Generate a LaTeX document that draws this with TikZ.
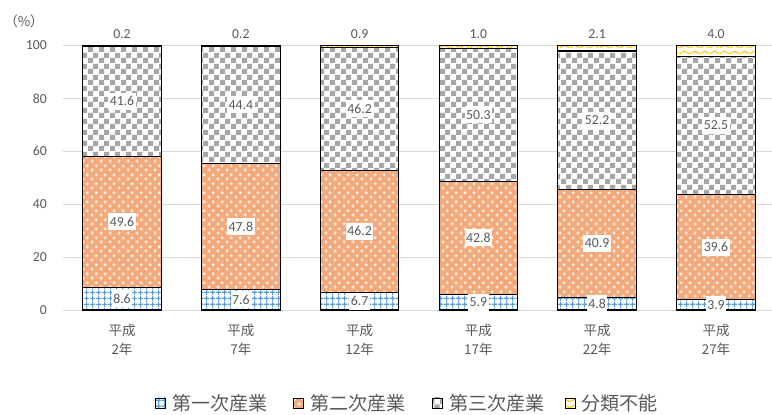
\documentclass[tikz,border=0pt]{standalone}
\usepackage{fontspec}
\setmainfont{Carlito}
\newfontfamily\jpfont{Noto Sans CJK JP}
\usepackage{tikz}
\usetikzlibrary{patterns}
\definecolor{txtgray}{HTML}{595959}
\definecolor{gridgray}{HTML}{D9D9D9}
\definecolor{blueline}{HTML}{5B9BD5}
\definecolor{orgbase}{HTML}{F4A97B}
\definecolor{chkgray}{HTML}{A6A6A6}
\definecolor{yelline}{HTML}{FFC000}
\pgfdeclarepatternformonly{bgrid}{\pgfpointorigin}{\pgfpoint{6pt}{6pt}}{\pgfpoint{6pt}{6pt}}{
  \pgfsetlinewidth{1.3pt}
  \pgfpathmoveto{\pgfpoint{3pt}{0pt}}\pgfpathlineto{\pgfpoint{3pt}{6pt}}
  \pgfpathmoveto{\pgfpoint{0pt}{3pt}}\pgfpathlineto{\pgfpoint{6pt}{3pt}}
  \pgfusepath{stroke}}
\pgfdeclarepatternformonly{pluses}{\pgfpointorigin}{\pgfpoint{9pt}{9pt}}{\pgfpoint{9pt}{9pt}}{
  \pgfsetlinewidth{1pt}
  \pgfpathmoveto{\pgfpoint{0.5pt}{2.25pt}}\pgfpathlineto{\pgfpoint{4pt}{2.25pt}}
  \pgfpathmoveto{\pgfpoint{2.25pt}{0.5pt}}\pgfpathlineto{\pgfpoint{2.25pt}{4pt}}
  \pgfpathmoveto{\pgfpoint{5pt}{6.75pt}}\pgfpathlineto{\pgfpoint{8.5pt}{6.75pt}}
  \pgfpathmoveto{\pgfpoint{6.75pt}{5pt}}\pgfpathlineto{\pgfpoint{6.75pt}{8.5pt}}
  \pgfusepath{stroke}}
\pgfdeclarepatternformonly{checker}{\pgfpointorigin}{\pgfpoint{11pt}{11pt}}{\pgfpoint{11pt}{11pt}}{
  \pgfpathrectangle{\pgfpointorigin}{\pgfpoint{5.5pt}{5.5pt}}
  \pgfpathrectangle{\pgfpoint{5.5pt}{5.5pt}}{\pgfpoint{5.5pt}{5.5pt}}
  \pgfusepath{fill}}
\pgfdeclarepatternformonly{waves}{\pgfpointorigin}{\pgfpoint{10pt}{6pt}}{\pgfpoint{10pt}{6pt}}{
  \pgfsetlinewidth{1.1pt}
  \pgfpathmoveto{\pgfpoint{0pt}{1.5pt}}
  \pgfpathcurveto{\pgfpoint{2.5pt}{1.5pt}}{\pgfpoint{2.5pt}{4.2pt}}{\pgfpoint{5pt}{4.2pt}}
  \pgfpathcurveto{\pgfpoint{7.5pt}{4.2pt}}{\pgfpoint{7.5pt}{1.5pt}}{\pgfpoint{10pt}{1.5pt}}
  \pgfusepath{stroke}}
\tikzset{
    prim/.style={
           preaction={fill=white},
           pattern=bgrid, pattern color=blueline,
           draw=black, line width=1.1pt,
           },
}
\tikzset{
    seco/.style={
           preaction={fill=orgbase},
           pattern=pluses, pattern color=white,
           draw=black, line width=1.1pt,
           },
}
\tikzset{
    tert/.style={
           preaction={fill=white},
           pattern=checker, pattern color=chkgray,
           draw=black, line width=1.1pt,
           },
}
\tikzset{
    unk/.style={
           preaction={fill=white},
           pattern=waves, pattern color=yelline,
           draw=black, line width=1.1pt,
           },
}
\tikzset{
    val/.style={
           rectangle,
           fill=white,
           text=txtgray,
           inner xsep=1.5pt, inner ysep=0pt,
           minimum height=17pt,
           font=\fontsize{13.8}{14}\selectfont,
           },
}
\tikzset{
    tick/.style={
           text=txtgray,
           inner sep=0pt,
           font=\fontsize{13.8}{14}\selectfont,
           },
}
\tikzset{
    cat/.style={
           text=txtgray,
           align=center,
           inner sep=0pt,
           font=\jpfont\fontsize{13.5}{19.3}\selectfont,
           },
}
\tikzset{
    leg/.style={
           anchor=west,
           text=txtgray,
           inner sep=0pt,
           font=\jpfont\fontsize{19}{19}\selectfont,
           },
}
\begin{document}
\begin{tikzpicture}[x=1pt,y=1pt]
\useasboundingbox (0,0) rectangle (772,415);
\begin{scope}[shift={(122,105)}, x=118.8pt, y=2.645pt]
\draw[gridgray, line width=0.9pt] (-0.5,0) -- (5.47,0);
\draw[gridgray, line width=0.9pt] (-0.5,20) -- (5.47,20);
\draw[gridgray, line width=0.9pt] (-0.5,40) -- (5.47,40);
\draw[gridgray, line width=0.9pt] (-0.5,60) -- (5.47,60);
\draw[gridgray, line width=0.9pt] (-0.5,80) -- (5.47,80);
\draw[gridgray, line width=0.9pt] (-0.5,100) -- (5.47,100);
\node[tick, anchor=east] (y0) at (-0.63,0) {0};
\node[tick, anchor=east] (y20) at (-0.63,20) {20};
\node[tick, anchor=east] (y40) at (-0.63,40) {40};
\node[tick, anchor=east] (y60) at (-0.63,60) {60};
\node[tick, anchor=east] (y80) at (-0.63,80) {80};
\node[tick, anchor=east] (y100) at (-0.63,100) {100};
\node[tick, font=\jpfont\fontsize{13.5}{14}\selectfont] (pct) at (-0.825,109) {（\%）};
\filldraw[prim] (-0.331,0) rectangle (0.331,8.6);
\filldraw[seco] (-0.331,8.6) rectangle (0.331,58.2);
\filldraw[tert] (-0.331,58.2) rectangle (0.331,99.8);
\filldraw[unk] (-0.331,99.8) rectangle (0.331,100);
\filldraw[prim] (0.669,0) rectangle (1.331,7.6);
\filldraw[seco] (0.669,7.6) rectangle (1.331,55.4);
\filldraw[tert] (0.669,55.4) rectangle (1.331,99.8);
\filldraw[unk] (0.669,99.8) rectangle (1.331,100);
\filldraw[prim] (1.669,0) rectangle (2.331,6.7);
\filldraw[seco] (1.669,6.7) rectangle (2.331,52.9);
\filldraw[tert] (1.669,52.9) rectangle (2.331,99.1);
\filldraw[unk] (1.669,99.1) rectangle (2.331,100);
\filldraw[prim] (2.669,0) rectangle (3.331,5.9);
\filldraw[seco] (2.669,5.9) rectangle (3.331,48.7);
\filldraw[tert] (2.669,48.7) rectangle (3.331,99.0);
\filldraw[unk] (2.669,99.0) rectangle (3.331,100);
\filldraw[prim] (3.669,0) rectangle (4.331,4.8);
\filldraw[seco] (3.669,4.8) rectangle (4.331,45.7);
\filldraw[tert] (3.669,45.7) rectangle (4.331,97.9);
\filldraw[unk] (3.669,97.9) rectangle (4.331,100);
\filldraw[prim] (4.669,0) rectangle (5.331,3.9);
\filldraw[seco] (4.669,3.9) rectangle (5.331,43.5);
\filldraw[tert] (4.669,43.5) rectangle (5.331,96.0);
\filldraw[unk] (4.669,96.0) rectangle (5.331,100);
\node[val] (v2p) at (0,4.3) {8.6};
\node[val] (v2s) at (0,33.4) {49.6};
\node[val] (v2t) at (0,79.0) {41.6};
\node[val] (v7p) at (1,3.8) {7.6};
\node[val] (v7s) at (1,31.5) {47.8};
\node[val] (v7t) at (1,77.6) {44.4};
\node[val] (v12p) at (2,3.35) {6.7};
\node[val] (v12s) at (2,29.8) {46.2};
\node[val] (v12t) at (2,76.0) {46.2};
\node[val] (v17p) at (3,2.95) {5.9};
\node[val] (v17s) at (3,27.3) {42.8};
\node[val] (v17t) at (3,73.85) {50.3};
\node[val] (v22p) at (4,2.4) {4.8};
\node[val] (v22s) at (4,25.25) {40.9};
\node[val] (v22t) at (4,71.8) {52.2};
\node[val] (v27p) at (5,1.95) {3.9};
\node[val] (v27s) at (5,23.7) {39.6};
\node[val] (v27t) at (5,69.75) {52.5};
\node[tick] (t2) at (0,104.3) {0.2};
\node[tick] (t7) at (1,104.3) {0.2};
\node[tick] (t12) at (2,104.3) {0.9};
\node[tick] (t17) at (3,104.3) {1.0};
\node[tick] (t22) at (4,104.3) {2.1};
\node[tick] (t27) at (5,104.3) {4.0};
\node[cat] (c2) at (0,-11.2) {平成\\2年};
\node[cat] (c7) at (1,-11.2) {平成\\7年};
\node[cat] (c12) at (2,-11.2) {平成\\12年};
\node[cat] (c17) at (3,-11.2) {平成\\17年};
\node[cat] (c22) at (4,-11.2) {平成\\22年};
\node[cat] (c27) at (5,-11.2) {平成\\27年};
\end{scope}
\filldraw[prim, line width=0.8pt] (155,7) rectangle (165,17);
\node[leg] (l1) at (172,11.5) {第一次産業};
\filldraw[seco, line width=0.8pt] (293,7) rectangle (303,17);
\node[leg] (l2) at (310,11.5) {第二次産業};
\filldraw[tert, line width=0.8pt] (432,7) rectangle (442,17);
\node[leg] (l3) at (449,11.5) {第三次産業};
\filldraw[unk, line width=0.8pt] (565,7) rectangle (575,17);
\node[leg] (l4) at (581,11.5) {分類不能};
\end{tikzpicture}
\end{document}
